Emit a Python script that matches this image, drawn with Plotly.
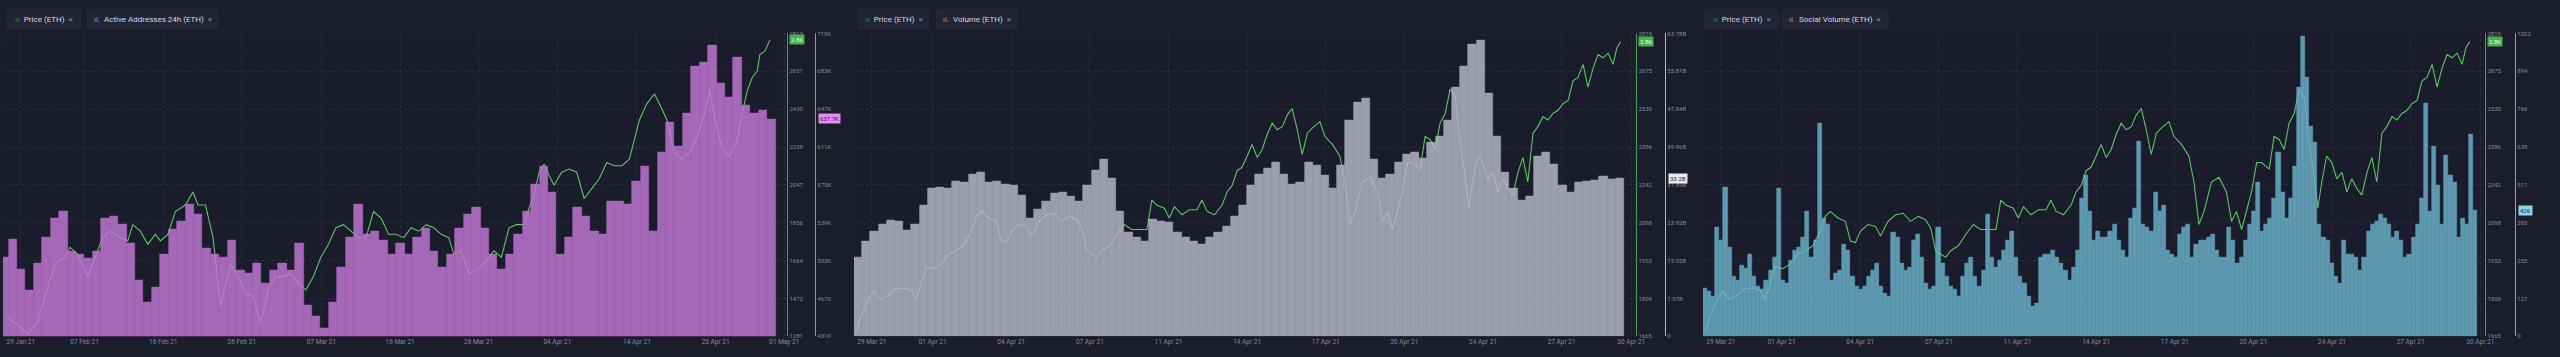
import pandas as pd
import numpy as np
import plotly.graph_objects as go

W, H = 2560, 357
BG = "#1b1d2b"
GRID = "#2a2d3e"
TICK_COL = "#858a9c"
GREEN = "#5cc862"
FONT = "Roboto"

# ---------------- Panel 1: Price vs Active Addresses 24h (Jan 28 - Apr 29) ----------------
aa_start = "2021-01-28 12:00"          # first daily bar
active_addr_k = [506, 523, 495, 475, 500, 525, 543, 550, 512, 509, 505, 512, 543, 545, 537, 519,
                 484, 463, 478, 509, 533, 540, 556, 547, 515, 509, 506, 522, 494, 491, 500, 481,
                 494, 500, 494, 519, 460, 450, 439, 463, 497, 525, 556, 528, 531, 522, 509, 519,
                 509, 525, 534, 512, 497, 509, 534, 547, 554, 534, 509, 495, 509, 528, 550, 575,
                 593, 568, 509, 525, 554, 545, 531, 528, 559, 559, 556, 578, 593, 531, 606, 634,
                 612, 643, 688, 691, 708, 671, 658, 696, 651, 643, 646, 637.7]

price1_origin = "2021-01-28 00:00"
price1_days = [0.67, 1.74, 3.23, 4.42, 5.32, 6.51, 7.70, 8.29, 9.18, 10.38, 11.27, 12.16, 13.05, 14.25,
               15.14, 15.73, 16.63, 17.52, 18.41, 19.01, 19.90, 20.79, 21.98, 22.88, 23.47, 24.36,
               25.26, 26.15, 27.34, 28.23, 29.13, 30.02, 30.91, 31.80, 32.70, 33.59, 34.48, 35.38,
               36.27, 37.16, 38.05, 38.95, 39.84, 40.73, 41.63, 42.52, 43.41, 44.30, 45.20, 46.09,
               46.98, 47.88, 48.77, 49.66, 50.55, 51.45, 52.34, 53.23, 53.83, 54.72, 55.61, 56.51,
               57.40, 58.59, 59.48, 60.38, 61.27, 62.16, 62.76, 63.35, 63.95, 64.55, 65.14, 65.73,
               66.63, 67.52, 68.41, 69.30, 70.20, 71.09, 71.98, 72.88, 73.77, 74.66, 75.26, 75.85,
               76.74, 77.64, 78.41, 79.12, 80.02, 80.91, 81.80, 82.70, 83.59, 84.18, 84.78, 85.67,
               86.56, 87.46, 88.05, 88.65, 89.24, 89.84, 90.14, 90.73, 91.33]
price1 = [1383, 1350, 1293, 1350, 1483, 1648, 1681, 1731, 1697, 1582, 1681, 1780, 1813, 1780,
          1764, 1846, 1813, 1747, 1797, 1764, 1797, 1912, 1945, 2011, 1945, 1945,
          1780, 1433, 1648, 1582, 1499, 1483, 1350, 1516, 1582, 1582, 1598, 1549,
          1516, 1582, 1681, 1747, 1830, 1846, 1813, 1780, 1780, 1912, 1879, 1797,
          1797, 1780, 1830, 1813, 1846, 1830, 1797, 1780, 1697, 1714, 1598, 1615,
          1648, 1714, 1681, 1830, 1846, 1846, 1929, 1995, 2111, 2152, 2094, 2045,
          2111, 2127, 2111, 1978, 2028, 2078, 2160, 2144, 2144, 2177, 2276, 2375,
          2458, 2507, 2441, 2375, 2210, 2177, 2210, 2292, 2408, 2524, 2392, 2226,
          2193, 2276, 2408, 2524, 2590, 2623, 2706, 2722, 2780]

p1_dates = ["29 Jan 21", "07 Feb 21", "16 Feb 21", "26 Feb 21", "07 Mar 21", "16 Mar 21",
            "26 Mar 21", "04 Apr 21", "14 Apr 21", "23 Apr 21", "01 May 21"]
p1_price_ticks = ["1281", "1472", "1664", "1856", "2047", "2238", "2430", "2621", "2813"]
p1_bar_ticks = ["431K", "467K", "503K", "539K", "575K", "611K", "647K", "683K", "719K"]

# ---------------- Panels 2 & 3: Mar 29 - Apr 29 ----------------
bars23_start = "2021-03-29 10:00"
# 8-hour bars
volume_b = [16.65, 20.09, 22.15, 23.53, 24.36, 24.22, 22.29, 23.67, 27.66, 31.10, 31.30, 31.24,
            32.61, 32.47, 34.19, 34.54, 32.34, 32.61, 31.92, 31.79, 29.72, 24.91, 26.63, 28.35,
            30.07, 30.41, 29.38, 28.35, 31.79, 34.88, 37.29, 33.16, 26.28, 21.81, 20.78, 19.95,
            24.56, 24.22, 24.08, 21.81, 20.78, 19.95, 19.40, 20.78, 21.81, 23.19, 25.25, 27.66,
            31.79, 34.19, 35.36, 36.60, 34.19, 31.92, 32.47, 36.60, 35.91, 33.85, 31.24, 35.91,
            45.55, 49.33, 50.02, 37.29, 33.16, 34.19, 36.60, 38.32, 38.80, 37.43, 40.73, 42.11,
            45.55, 52.43, 56.90, 61.37, 62.40, 51.05, 42.11, 34.54, 31.10, 28.69, 29.38, 37.98,
            38.67, 36.26, 31.79, 30.41, 32.47, 32.61, 32.82, 33.71, 33.02, 33.2]

# 4-hour bars
social_vol = [162, 151, 135, 366, 322, 504, 300, 201, 190, 239, 228, 278, 201, 168, 157, 190,
              223, 267, 498, 190, 179, 256, 289, 300, 333, 421, 267, 322, 719, 399, 377, 190,
              212, 223, 311, 289, 201, 168, 157, 168, 201, 223, 245, 168, 146, 135, 349, 333,
              245, 223, 234, 322, 344, 267, 179, 157, 168, 366, 245, 201, 168, 157, 135, 201,
              245, 267, 201, 168, 223, 410, 267, 234, 256, 289, 322, 355, 267, 201, 179, 135,
              101, 112, 267, 278, 278, 289, 267, 245, 223, 190, 234, 289, 465, 542, 421, 322,
              355, 333, 333, 355, 377, 322, 289, 267, 399, 432, 658, 377, 366, 355, 487, 421,
              443, 289, 278, 267, 344, 366, 377, 267, 311, 322, 322, 333, 344, 289, 267, 267,
              366, 322, 245, 267, 322, 377, 421, 520, 355, 377, 399, 465, 620, 487, 399, 465,
              575, 840, 1011, 873, 708, 653, 377, 333, 322, 245, 201, 179, 322, 278, 278, 267,
              223, 267, 355, 377, 388, 410, 399, 377, 333, 355, 322, 267, 278, 333, 377, 465,
              785, 421, 642, 509, 377, 609, 542, 520, 333, 399, 377, 680, 426]

price23_origin = "2021-03-29 10:00"
price23_days = [0.083, 0.287, 0.593, 0.797, 1.103, 1.409, 1.715, 2.123, 2.327, 2.531, 2.735, 2.939,
                3.245, 3.551, 3.857, 4.163, 4.469, 4.775, 4.980, 5.184, 5.490, 5.796, 6.000, 6.204,
                6.408, 6.714, 7.020, 7.224, 7.530, 7.836, 8.142, 8.448, 8.754, 9.060, 9.264, 9.468,
                9.672, 9.876, 10.08, 10.39, 10.69, 11.00, 11.30, 11.61, 11.92, 12.12, 12.32, 12.63,
                12.83, 13.04, 13.35, 13.65, 13.96, 14.16, 14.37, 14.67, 14.98, 15.18, 15.39, 15.59,
                15.79, 16.00, 16.20, 16.41, 16.61, 16.81, 17.02, 17.22, 17.43, 17.63, 17.83, 18.04,
                18.24, 18.45, 18.65, 18.96, 19.16, 19.47, 19.77, 19.98, 20.18, 20.39, 20.69, 21.00,
                21.30, 21.51, 21.71, 21.92, 22.12, 22.32, 22.53, 22.73, 23.04, 23.24, 23.45, 23.65,
                23.85, 24.06, 24.26, 24.47, 24.67, 24.87, 25.02, 25.18, 25.38, 25.59, 25.79, 26.00,
                26.20, 26.40, 26.61, 26.81, 27.02, 27.22, 27.42, 27.63, 27.83, 28.04, 28.24, 28.44,
                28.65, 28.85, 29.06, 29.26, 29.46, 29.67, 29.87, 30.08, 30.28, 30.48, 30.69, 30.89,
                31.04, 31.20]
price23 = [1680, 1742, 1804, 1836, 1804, 1823, 1848, 1848, 1842, 1804, 1867, 1929,
           1923, 1941, 1979, 1991, 2010, 2066, 2122, 2141, 2116, 2103, 2028, 2022,
           2066, 2091, 2084, 2047, 2103, 2128, 2134, 2103, 2122, 2109, 2078, 1991,
           1979, 1966, 1991, 2010, 2053, 2091, 2072, 2072, 2072, 2184, 2165, 2153,
           2116, 2159, 2128, 2147, 2147, 2184, 2141, 2128, 2165, 2215, 2240, 2296,
           2309, 2352, 2396, 2346, 2377, 2433, 2477, 2452, 2464, 2508, 2533, 2452,
           2358, 2439, 2458, 2483, 2427, 2396, 2352, 2253, 2091, 2141, 2253, 2271,
           2215, 2103, 2141, 2072, 2141, 2215, 2327, 2327, 2302, 2427, 2414, 2377,
           2477, 2514, 2607, 2576, 2389, 2277, 2153, 2253, 2352, 2327, 2265, 2290,
           2215, 2265, 2228, 2203, 2290, 2346, 2253, 2439, 2464, 2502, 2489, 2514,
           2526, 2551, 2564, 2638, 2651, 2701, 2614, 2688, 2738, 2726, 2744, 2701,
           2763, 2788]

p23_dates = ["29 Mar 21", "01 Apr 21", "04 Apr 21", "07 Apr 21", "11 Apr 21", "14 Apr 21",
             "17 Apr 21", "20 Apr 21", "24 Apr 21", "27 Apr 21", "30 Apr 21"]
p23_price_ticks = ["1665", "1809", "1953", "2098", "2242", "2386", "2530", "2675", "2819"]
p2_bar_ticks = ["0", "7.97B", "15.95B", "23.92B", "31.89B", "39.86B", "47.84B", "55.81B", "63.78B"]
p3_bar_ticks = ["0", "127", "255", "383", "511", "638", "766", "894", "1022"]

# ---------------- layout helpers ----------------
PLOT_TOP, PLOT_BOT = 30, 339
ydom = [(H - PLOT_BOT) / H, (H - PLOT_TOP) / H]
DAY = pd.Timedelta(days=1)

panels = [
    dict(x0=3, x1=791, start=pd.Timestamp("2021-01-28 08:00"), pxday=8.467,
         tickpx=[21, 85, 164, 243, 323, 402, 481, 560, 640, 719, 788], dates=p1_dates,
         prange=(1281, 2813), pticks=p1_price_ticks, brange=(431, 719), bticks=p1_bar_ticks,
         baraxis=819, barcol="#c076d3", tagcol="#e58cf0", tagtxt="637.7K", tagfont="#3a1a44",
         title="Active Addresses 24h (ETH)", box1=(7, 74), box2=(88, 131)),
    dict(x0=858, x1=1644, start=pd.Timestamp(bars23_start), pxday=24.69,
         tickpx=[876, 937, 1016, 1095, 1174, 1253, 1332, 1411, 1490, 1569, 1639], dates=p23_dates,
         prange=(1665, 2819), pticks=p23_price_ticks, brange=(0, 63.78), bticks=p2_bar_ticks,
         baraxis=1673, barcol="#b5b7c7", tagcol="#e9eaf0", tagtxt="33.2B", tagfont="#1b1d2b",
         title="Volume (ETH)", box1=(863, 70), box2=(941, 81)),
    dict(x0=1711, x1=2497, start=pd.Timestamp(bars23_start), pxday=24.69,
         tickpx=[1729, 1790, 1869, 1948, 2027, 2106, 2185, 2264, 2343, 2422, 2492], dates=p23_dates,
         prange=(1665, 2819), pticks=p23_price_ticks, brange=(0, 1022), bticks=p3_bar_ticks,
         baraxis=2527, barcol="#6ab2ca", tagcol="#8fd3ea", tagtxt="426", tagfont="#1b1d2b",
         title="Social Volume (ETH)", box1=(1713, 74), box2=(1791, 106)),
]

def px2t(p, px):
    return p["start"] + (px - p["x0"]) / p["pxday"] * DAY

fig = go.Figure()
layout = dict(width=W, height=H, margin=dict(l=0, r=0, t=0, b=0), paper_bgcolor=BG,
              plot_bgcolor=BG, showlegend=False, font=dict(family=FONT, color=TICK_COL, size=6),
              annotations=[], shapes=[], bargap=0)

series = [
    (active_addr_k, pd.Timestamp(aa_start), DAY, price1, pd.Timestamp(price1_origin), price1_days),
    (volume_b, pd.Timestamp(bars23_start) + pd.Timedelta(hours=4), pd.Timedelta(hours=8),
     price23, pd.Timestamp(price23_origin), price23_days),
    (social_vol, pd.Timestamp(bars23_start) + pd.Timedelta(hours=2), pd.Timedelta(hours=4),
     price23, pd.Timestamp(price23_origin), price23_days),
]

for i, p in enumerate(panels):
    xa = "x" if i == 0 else f"x{i+1}"
    ya_p = "y" if i == 0 else f"y{2*i+1}"
    ya_b = f"y{2*i+2}"
    xkey = "xaxis" if i == 0 else f"xaxis{i+1}"
    ykey_p = "yaxis" if i == 0 else f"yaxis{2*i+1}"
    ykey_b = f"yaxis{2*i+2}"
    bars, bstart, bstep, prices, porigin, pdays = series[i]

    bx = [bstart + k * bstep for k in range(len(bars))]
    ptimes = [porigin + d * DAY for d in pdays]

    fig.add_trace(go.Scatter(x=ptimes, y=prices, mode="lines", xaxis=xa, yaxis=ya_p,
                             line=dict(color=GREEN, width=1.1), hoverinfo="skip"))
    fig.add_trace(go.Bar(x=bx, y=bars, xaxis=xa, yaxis=ya_b, marker_color=p["barcol"],
                         marker_line_width=0.6, marker_line_color=p["barcol"], opacity=0.84,
                         width=(bstep.total_seconds() * 1000) * 1.0, hoverinfo="skip"))

    xr = [px2t(p, p["x0"]), px2t(p, p["x1"])]
    layout[xkey] = dict(domain=[p["x0"] / W, p["x1"] / W], type="date", range=xr, anchor=ya_p,
                        tickvals=[px2t(p, t) for t in p["tickpx"]], ticktext=p["dates"],
                        showgrid=True, gridcolor=GRID, griddash="dot", gridwidth=1,
                        zeroline=False, showline=False, ticks="",
                        tickfont=dict(size=6.5, color=TICK_COL, family=FONT))
    pv = np.linspace(p["prange"][0], p["prange"][1], len(p["pticks"]))
    layout[ykey_p] = dict(domain=ydom, range=list(p["prange"]), anchor="free",
                          position=p["x1"] / W, side="right", showline=True,
                          linecolor="#4c9c53", linewidth=1, tickvals=pv, ticktext=p["pticks"],
                          ticks="", showgrid=True, gridcolor=GRID, griddash="dot", zeroline=False,
                          tickfont=dict(size=6, color=TICK_COL, family=FONT))
    bv = np.linspace(p["brange"][0], p["brange"][1], len(p["bticks"]))
    layout[ykey_b] = dict(range=list(p["brange"]), overlaying=ya_p, anchor="free",
                          position=p["baraxis"] / W, side="right", showline=True,
                          linecolor=p["barcol"], linewidth=1, tickvals=bv, ticktext=p["bticks"],
                          ticks="", showgrid=False, zeroline=False,
                          tickfont=dict(size=6, color=TICK_COL, family=FONT))

    # last-value tags
    layout["annotations"].append(dict(
        x=(p["x1"] + 1.5) / W, xref="paper", xanchor="left", y=prices[-1], yref=ya_p,
        yanchor="middle", text="2.8K", showarrow=False, bgcolor="#46b34f",
        font=dict(size=6, color="#e9ffe9", family=FONT), borderpad=1))
    layout["annotations"].append(dict(
        x=(p["baraxis"] + 2.5) / W, xref="paper", xanchor="left", y=bars[-1], yref=ya_b,
        yanchor="middle", text=p["tagtxt"], showarrow=False, bgcolor=p["tagcol"],
        font=dict(size=6, color=p["tagfont"], family=FONT), borderpad=1))

    # legend chips
    for (bxpx, bw), txt in [(p["box1"], f'<span style="color:{GREEN}">○</span>  Price (ETH)  <span style="color:#8a8fa0">×</span>'),
                            (p["box2"], f'<span style="color:#9aa0b0">ıl.</span>  {p["title"]}  <span style="color:#8a8fa0">×</span>')]:
        layout["shapes"].append(dict(type="rect", xref="paper", yref="paper",
                                     x0=bxpx / W, x1=(bxpx + bw) / W,
                                     y0=1 - 25 / H, y1=1 - 6 / H, fillcolor="#212434",
                                     line=dict(color="#262a3b", width=1), layer="below"))
        layout["annotations"].append(dict(
            x=(bxpx + bw / 2) / W, xref="paper", xanchor="center", y=1 - 15.5 / H, yref="paper",
            yanchor="middle", text=txt, showarrow=False,
            font=dict(size=8, color="#d5d8e2", family=FONT)))

fig.update_layout(**layout)
fig.write_html("out.html")
